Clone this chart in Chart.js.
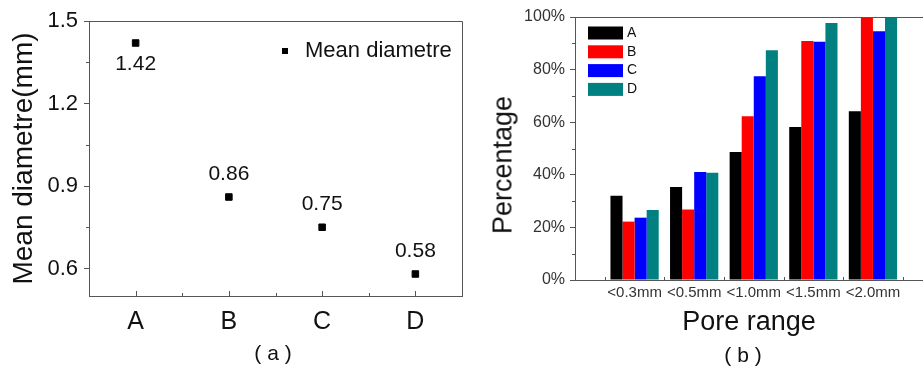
<!DOCTYPE html>
<html>
<head>
<meta charset="utf-8">
<script src="https://cdn.jsdelivr.net/npm/chart.js"></script>
<style>
  body { margin: 0; background: #fff; width: 923px; height: 373px; overflow: hidden; position: relative;
         font-family: "Liberation Sans", Arial, sans-serif; color: #111; }
  #wrapA { position: absolute; left: 0; top: 0; }
  #wrapB { position: absolute; left: 470px; top: 0; }
  .cap { position: absolute; font-size: 21px; transform: translate(-50%, -50%); white-space: pre; }
  #titleB { position: absolute; left: 503px; top: 165px; font-size: 27px; white-space: nowrap;
            transform: translate(-50%, -50%) rotate(-90deg); }
</style>
</head>
<body>
<div id="wrapA"><canvas id="chartA" width="470" height="373"></canvas></div>
<div id="wrapB"><canvas id="chartB" width="453" height="373"></canvas></div>
<div class="cap" style="left:273px; top:353px;">( a )</div>
<div class="cap" style="left:743px; top:355px;">( b )</div>
<div id="titleB">Percentage</div>
<script>
// panel (a)
var samples = ["A", "B", "C", "D"];
var meanDiameter = [1.42, 0.86, 0.75, 0.58];
var diameterTicks = [0.6, 0.9, 1.2, 1.5];

// panel (b)
var poreRanges = ["<0.3mm", "<0.5mm", "<1.0mm", "<1.5mm", "<2.0mm"];
var percentA = [32, 35.4, 48.7, 58.2, 64.2];
var percentB = [22.2, 26.8, 62.3, 90.9, 100];
var percentC = [23.7, 41.1, 77.5, 90.6, 94.6];
var percentD = [26.6, 40.8, 87.4, 97.7, 100];
var percentTicks = [0, 20, 40, 60, 80, 100];

var axisColor = "#555";
var textColor = "#111";
Chart.defaults.font.family = "'Liberation Sans', Arial, sans-serif";
Chart.defaults.color = textColor;

function toPoints(arr) {
    return arr.map(function (v, i) { return { x: i, y: v }; });
}
function fixWidth(w) { return function (scale) { scale.width = w; }; }
function fixHeight(h) { return function (scale) { scale.height = h; }; }

// value label 1.42 sits under its point, the others above
var labelBelow = [true, false, false, false];

var panelA = {
    id: "panelA",
    afterDatasetsDraw: function (chart) {
        var ctx = chart.ctx, area = chart.chartArea;
        var x = chart.scales.x, y = chart.scales.y;
        ctx.save();
        ctx.strokeStyle = axisColor;
        ctx.lineWidth = 1;
        ctx.beginPath();
        // frame top and right
        ctx.moveTo(area.left, area.top + 0.5);
        ctx.lineTo(area.right + 0.5, area.top + 0.5);
        ctx.lineTo(area.right + 0.5, area.bottom);
        // inward ticks on x
        for (var i = 0; i < samples.length; i++) {
            var px = Math.round(x.getPixelForValue(i)) + 0.5;
            ctx.moveTo(px, area.bottom);
            ctx.lineTo(px, area.bottom - 5);
            if (i < samples.length - 1) {
                var mx = Math.round(x.getPixelForValue(i + 0.5)) + 0.5;
                ctx.moveTo(mx, area.bottom);
                ctx.lineTo(mx, area.bottom - 3);
            }
        }
        // minor ticks on y
        for (var k = 0; k < diameterTicks.length - 1; k++) {
            var v = (diameterTicks[k] + diameterTicks[k + 1]) / 2;
            var py = Math.round(y.getPixelForValue(v)) + 0.5;
            ctx.moveTo(area.left, py);
            ctx.lineTo(area.left - 3, py);
        }
        ctx.stroke();

        // value labels
        ctx.fillStyle = textColor;
        ctx.font = "21px 'Liberation Sans', Arial, sans-serif";
        ctx.textAlign = "center";
        ctx.textBaseline = "middle";
        meanDiameter.forEach(function (v, i) {
            var lx = x.getPixelForValue(i);
            var ly = y.getPixelForValue(v) + (labelBelow[i] ? 21 : -23);
            ctx.fillText(v.toFixed(2), lx, ly);
        });

        // legend
        var ds = chart.data.datasets[0];
        ctx.fillStyle = ds.backgroundColor;
        ctx.fillRect(282, 48, 6, 6);
        ctx.fillStyle = textColor;
        ctx.font = "22px 'Liberation Sans', Arial, sans-serif";
        ctx.textAlign = "left";
        ctx.fillText(ds.label, 305, 51);
        ctx.restore();
    }
};

new Chart(document.getElementById("chartA"), {
    type: "scatter",
    data: {
        datasets: [{
            label: "Mean diametre",
            data: toPoints(meanDiameter),
            backgroundColor: "#000",
            borderColor: "#000",
            pointStyle: "rect",
            pointRadius: 4.6,
            pointHoverRadius: 4.6
        }]
    },
    options: {
        responsive: false,
        animation: false,
        layout: { padding: { top: 21, right: 8, left: 0, bottom: 0 } },
        plugins: { legend: { display: false }, tooltip: { enabled: false } },
        scales: {
            x: {
                type: "linear",
                min: -0.5,
                max: 3.5,
                afterBuildTicks: function (scale) {
                    scale.ticks = samples.map(function (s, i) { return { value: i }; });
                },
                afterFit: fixHeight(77),
                grid: { display: false, drawTicks: false },
                border: { color: axisColor, width: 1 },
                ticks: {
                    padding: 11,
                    font: { size: 25 },
                    color: textColor,
                    autoSkip: false,
                    maxRotation: 0,
                    callback: function (value) { return samples[value]; }
                }
            },
            y: {
                min: 0.5,
                max: 1.5,
                afterBuildTicks: function (scale) {
                    scale.ticks = diameterTicks.map(function (v) { return { value: v }; });
                },
                afterFit: fixWidth(89),
                grid: { drawOnChartArea: false, drawTicks: true, tickLength: 5, color: axisColor },
                border: { color: axisColor, width: 1 },
                ticks: {
                    padding: 6,
                    font: { size: 22 },
                    color: textColor,
                    callback: function (value) { return value.toFixed(1); }
                },
                title: {
                    display: true,
                    text: "Mean diametre(mm)",
                    font: { size: 28 },
                    color: textColor,
                    padding: { top: 7, bottom: 0 }
                }
            }
        }
    },
    plugins: [panelA]
});

var barColors = ["#000000", "#ff0000", "#0000ff", "#008080"];

var panelB = {
    id: "panelB",
    afterDatasetsDraw: function (chart) {
        var ctx = chart.ctx, area = chart.chartArea;
        var x = chart.scales.x, y = chart.scales.y;
        ctx.save();
        ctx.strokeStyle = axisColor;
        ctx.lineWidth = 1;
        ctx.beginPath();
        ctx.moveTo(area.left, area.top + 0.5);
        ctx.lineTo(area.right, area.top + 0.5);
        // inward ticks between groups
        for (var i = -0.5; i <= poreRanges.length; i += 1) {
            var px = Math.round(x.getPixelForValue(i)) + 0.5;
            ctx.moveTo(px, area.bottom);
            ctx.lineTo(px, area.bottom - 3);
        }
        // minor ticks on y
        for (var k = 0; k < percentTicks.length - 1; k++) {
            var v = (percentTicks[k] + percentTicks[k + 1]) / 2;
            var py = Math.round(y.getPixelForValue(v)) + 0.5;
            ctx.moveTo(area.left, py);
            ctx.lineTo(area.left - 3, py);
        }
        ctx.stroke();

        // legend
        ctx.font = "14px 'Liberation Sans', Arial, sans-serif";
        ctx.textAlign = "left";
        ctx.textBaseline = "middle";
        chart.data.datasets.forEach(function (ds, j) {
            var cy = 33 + j * 18.8;
            ctx.fillStyle = ds.backgroundColor;
            ctx.fillRect(118, cy - 6.5, 35, 13);
            ctx.fillStyle = textColor;
            ctx.fillText(ds.label, 157, cy);
        });
        ctx.restore();
    }
};

new Chart(document.getElementById("chartB"), {
    type: "bar",
    data: {
        datasets: [
            { label: "A", data: toPoints(percentA), backgroundColor: barColors[0] },
            { label: "B", data: toPoints(percentB), backgroundColor: barColors[1] },
            { label: "C", data: toPoints(percentC), backgroundColor: barColors[2] },
            { label: "D", data: toPoints(percentD), backgroundColor: barColors[3] }
        ]
    },
    options: {
        responsive: false,
        animation: false,
        categoryPercentage: 0.81,
        barPercentage: 1.0,
        layout: { padding: { top: 17, right: 0, left: 0, bottom: 0 } },
        plugins: { legend: { display: false }, tooltip: { enabled: false } },
        scales: {
            x: {
                type: "linear",
                offset: false,
                min: -1,
                max: 4.84,
                afterBuildTicks: function (scale) {
                    scale.ticks = poreRanges.map(function (s, i) { return { value: i }; });
                },
                afterFit: fixHeight(93),
                grid: { display: false, drawTicks: false },
                border: { color: axisColor, width: 1 },
                ticks: {
                    padding: 4,
                    font: { size: 15 },
                    color: "#333",
                    autoSkip: false,
                    maxRotation: 0,
                    callback: function (value) { return poreRanges[value]; }
                },
                title: {
                    display: true,
                    text: "Pore range",
                    font: { size: 27 },
                    color: textColor,
                    padding: { top: 0, bottom: 34 }
                }
            },
            y: {
                min: 0,
                max: 100,
                afterBuildTicks: function (scale) {
                    scale.ticks = percentTicks.map(function (v) { return { value: v }; });
                },
                afterFit: fixWidth(105),
                grid: { drawOnChartArea: false, drawTicks: true, tickLength: 5, color: axisColor },
                border: { color: axisColor, width: 1 },
                ticks: {
                    padding: 5,
                    font: { size: 16 },
                    color: "#333",
                    callback: function (value) { return value + "%"; }
                }
            }
        }
    },
    plugins: [panelB]
});
</script>
</body>
</html>
